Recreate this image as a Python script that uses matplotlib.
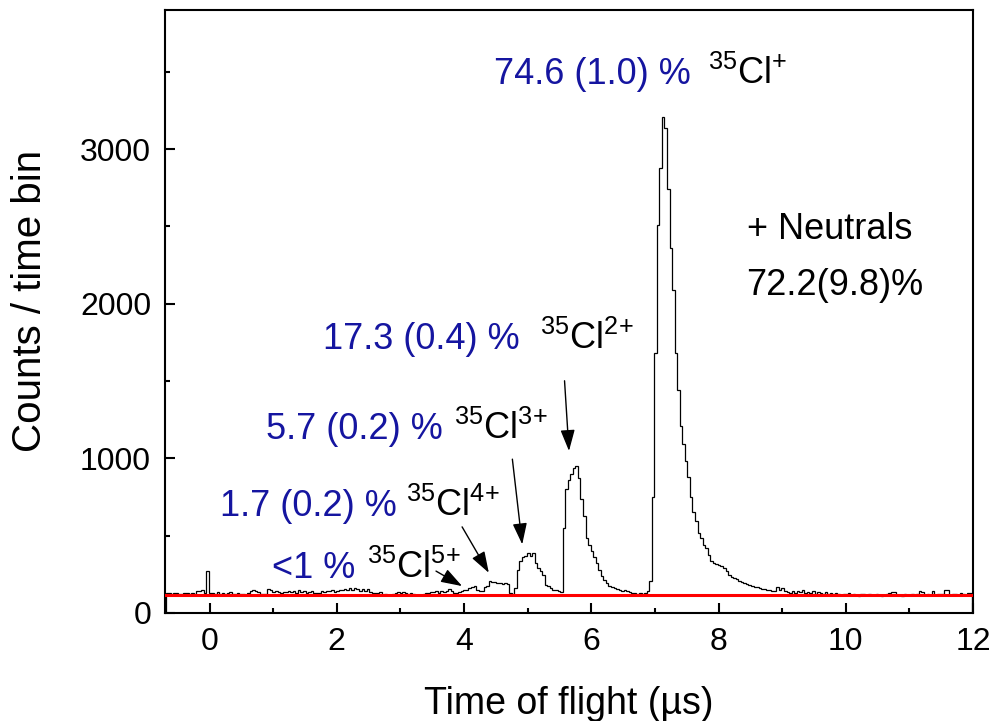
import numpy as np
import matplotlib
matplotlib.use('Agg')
import matplotlib.pyplot as plt

plt.rcParams['font.family'] = ['Liberation Sans', 'DejaVu Sans']
plt.rcParams['mathtext.fontset'] = 'custom'
plt.rcParams['mathtext.rm'] = 'Liberation Sans'
plt.rcParams['mathtext.it'] = 'Liberation Sans:italic'
plt.rcParams['mathtext.bf'] = 'Liberation Sans:bold'

# time-of-flight histogram, 0.04 us bins starting at -0.69 us
t_start = -0.69
bin_width = 0.04

# flat background, -0.69 .. 3.95 us
counts_bg = [130, 128, 125, 132, 128, 126, 122, 130, 127, 124,
             128, 120, 145, 140, 148, 132, 270, 130, 128, 125,
             133, 126, 130, 122, 128, 135, 124, 120, 128, 126,
             122, 118, 130, 145, 148, 140, 138, 125, 120, 126,
             158, 150, 138, 140, 136, 132, 138, 134, 140, 135,
             140, 132, 146, 136, 140, 128, 138, 142, 132, 128,
             132, 140, 136, 145, 140, 148, 135, 144, 150, 146,
             158, 150, 162, 148, 160, 152, 145, 158, 140, 152,
             135, 130, 132, 128, 135, 118, 120, 116, 118, 125,
             130, 134, 128, 136, 132, 125, 130, 120, 118, 115,
             118, 125, 132, 128, 138, 135, 140, 130, 142, 138,
             145, 158, 140, 130, 128, 135]
# Cl5+ / Cl4+ region, 3.95 .. 4.83 us
counts_q45 = [140, 150, 150, 162, 170, 172, 150, 140, 140, 170,
              175, 210, 200, 200, 195, 192, 190, 195, 185, 130,
              125, 160]
# Cl3+ peak, 4.83 .. 5.55 us
counts_q3 = [280, 335, 365, 370, 385, 370, 390, 325, 290, 270,
             245, 183, 172, 162, 150, 147, 140, 135]
# Cl2+ peak, 5.55 .. 6.91 us
counts_q2 = [550, 800, 860, 900, 935, 950, 875, 735, 625, 485,
             440, 400, 365, 325, 280, 240, 215, 195, 175, 165,
             160, 152, 150, 145, 148, 140, 138, 130, 132, 125,
             128, 122, 130, 140]
# Cl+ peak, 6.91 .. 7.91 us
counts_q1 = [210, 750, 1680, 2510, 2880, 3210, 3140, 2740, 2360, 2090,
             1680, 1440, 1210, 1090, 980, 880, 750, 650, 595, 520,
             485, 440, 420, 375, 335]
# tail, 7.91 .. 11.99 us
counts_tail = [325, 318, 312, 305, 290, 270, 248, 235, 228, 220,
               210, 200, 195, 185, 180, 175, 170, 165, 160, 158,
               155, 150, 148, 145, 142, 168, 150, 162, 140, 138,
               132, 145, 128, 140, 135, 148, 130, 138, 128, 140,
               125, 135, 130, 122, 138, 126, 130, 120, 132, 125,
               118, 125, 120, 128, 115, 122, 118, 112, 125, 120,
               116, 120, 114, 118, 122, 115, 112, 118, 120, 128,
               136, 134, 115, 118, 112, 120, 116, 118, 122, 115,
               122, 140, 138, 118, 120, 118, 140, 115, 120, 125,
               120, 150, 148, 118, 126, 120, 115, 128, 122, 118,
               132, 128]

baseline = 115

# (fraction text, ion label, text x, text baseline y, label x)
labels = [
    ('74.6 (1.0) %', r'$\mathregular{^{35}Cl^{{+}}}$', 4.47, 3424, 7.84),
    ('17.3 (0.4) %', r'$\mathregular{^{35}Cl^{2{+}}}$', 1.78, 1707, 5.19),
    ('5.7 (0.2) %', r'$\mathregular{^{35}Cl^{3{+}}}$', 0.89, 1124, 3.84),
    ('1.7 (0.2) %', r'$\mathregular{^{35}Cl^{4{+}}}$', 0.16, 627, 3.09),
    ('<1 %', r'$\mathregular{^{35}Cl^{5{+}}}$', 0.99, 228, 2.48),
]
# arrows: (tail x, tail y, tip x, tip y)
arrows = [
    (5.58, 1502, 5.65, 1048),
    (4.76, 995, 4.915, 444),
    (3.97, 557, 4.39, 260),
    (3.56, 271, 3.97, 174),
]

counts = np.array(counts_bg + counts_q45 + counts_q3 + counts_q2 + counts_q1 + counts_tail)
edges = t_start + bin_width * np.arange(len(counts) + 1)

fig = plt.figure(figsize=(9.95, 7.21), dpi=100)
ax = fig.add_axes([0.1658, 0.1498, 0.9779 - 0.1658, 0.9861 - 0.1498])

ax.stairs(counts, edges, color='black', lw=0.9)
ax.axhline(baseline, color='red', lw=2.2, zorder=3)

ax.set_xlim(-0.7, 12)
ax.set_ylim(0, 3900)
ax.set_xticks(np.arange(0, 13, 2))
ax.set_xticks(np.arange(1, 12, 2), minor=True)
ax.set_yticks(np.arange(0, 3001, 1000))
ax.set_yticks(np.arange(500, 3900, 1000), minor=True)
ax.tick_params(which='both', direction='in', width=1.5, labelsize=23)
ax.tick_params(which='major', length=7, pad=10)
ax.tick_params(which='minor', length=3.5)
for s in ax.spines.values():
    s.set_linewidth(1.5)

ax.set_xlabel('Time of flight (\u00b5s)', fontsize=27, labelpad=21)
ax.set_ylabel('Counts / time bin', fontsize=29)
ax.yaxis.set_label_coords(-0.143, 0.517)

blue = '#1515a0'
for frac, ion, tx, ty, ix in labels:
    ax.text(tx, ty, frac, color=blue, fontsize=26, va='baseline', ha='left')
    ax.text(ix, ty, ion, color='black', fontsize=26, va='baseline', ha='left')

ax.text(8.44, 2420, '+ Neutrals', fontsize=26, va='baseline')
ax.text(8.44, 2057, '72.2(9.8)%', fontsize=26, va='baseline')

for x0, y0, x1, y1 in arrows:
    ax.annotate('', xy=(x1, y1), xytext=(x0, y0),
                arrowprops=dict(arrowstyle='-|>,head_length=0.65,head_width=0.22',
                                color='black', lw=1.0, shrinkA=0, shrinkB=0,
                                mutation_scale=20))

fig.savefig('out.png', dpi=100)
